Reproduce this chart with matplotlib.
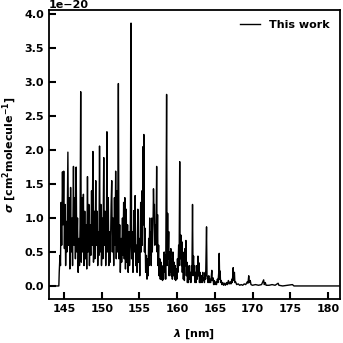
import numpy as np
import matplotlib
matplotlib.use("Agg")
import matplotlib.pyplot as plt

# spectrum (sigma in units of 1e-20 cm^2 molecule^-1)
wl = [143.0, 144.3, 144.35, 144.45, 144.52, 144.6, 144.68, 144.78, 144.86, 144.95,
      145.04, 145.12, 145.2, 145.3, 145.38, 145.5, 145.58, 145.68, 145.76, 145.86,
      145.94, 146.04, 146.12, 146.24, 146.32, 146.42, 146.5, 146.6, 146.68, 146.78,
      146.86, 146.96, 147.04, 147.12, 147.2, 147.28, 147.38, 147.46, 147.56, 147.64,
      147.74, 147.82, 147.92, 148.0, 148.1, 148.18, 148.28, 148.36, 148.46, 148.54,
      148.64, 148.72, 148.82, 148.9, 149.0, 149.08, 149.2, 149.28, 149.38, 149.46,
      149.56, 149.62, 149.7, 149.78, 149.88, 149.96, 150.06, 150.14, 150.26, 150.34,
      150.44, 150.52, 150.62, 150.68, 150.76, 150.86, 150.94, 151.04, 151.12, 151.24,
      151.32, 151.4, 151.5, 151.58, 151.68, 151.76, 151.84, 151.92, 152.02, 152.1,
      152.2, 152.28, 152.38, 152.46, 152.56, 152.64, 152.74, 152.82, 152.9, 152.98,
      153.06, 153.14, 153.24, 153.32, 153.42, 153.5, 153.6, 153.68, 153.78, 153.88,
      153.96, 154.06, 154.14, 154.26, 154.34, 154.42, 154.5, 154.6, 154.68, 154.78,
      154.86, 154.96, 155.04, 155.16, 155.24, 155.32, 155.38, 155.46, 155.52, 155.58,
      155.66, 155.74, 155.82, 155.92, 156.0,
      156.08, 156.14, 156.22, 156.28, 156.36, 156.42, 156.5, 156.56, 156.64,
      156.7, 156.8, 156.86, 156.92, 156.98, 157.04, 157.12, 157.2, 157.28, 157.34,
      157.4, 157.46, 157.54, 157.6, 157.7, 157.76, 157.86, 157.92, 158.0, 158.06,
      158.14, 158.2, 158.28, 158.34, 158.42, 158.48, 158.6, 158.66, 158.74, 158.8,
      158.88, 158.94, 159.02, 159.08, 159.16, 159.22, 159.3, 159.36, 159.44, 159.5,
      159.6, 159.66, 159.74, 159.8, 159.9, 159.96, 160.04, 160.1, 160.2, 160.26,
      160.34, 160.4, 160.5, 160.56, 160.62, 160.68, 160.76, 160.82, 160.9, 160.96,
      161.04, 161.1, 161.16, 161.22, 161.3, 161.36, 161.44, 161.5, 161.6, 161.66,
      161.76, 161.82, 161.9, 161.96, 162.04, 162.1, 162.18, 162.24, 162.32, 162.38,
      162.46, 162.52, 162.62, 162.68, 162.76, 162.82, 162.9, 162.96, 163.06, 163.12,
      163.22, 163.3, 163.4, 163.46, 163.56, 163.62, 163.72, 163.78, 163.9, 163.96,
      164.04, 164.1, 164.2, 164.26, 164.36, 164.44, 164.54, 164.6, 164.66, 164.76,
      164.84, 164.94, 165.02, 165.14, 165.22, 165.34, 165.42, 165.52, 165.58, 165.64,
      165.7, 165.76, 165.86, 165.94, 166.06, 166.16, 166.3, 166.4, 166.56, 166.66,
      166.8, 166.9, 167.04, 167.14, 167.26, 167.32, 167.44, 167.5, 167.6, 167.66,
      167.76, 167.9, 168.1, 168.3, 168.5, 168.7, 168.9, 169.1, 169.3, 169.4,
      169.5, 169.58, 169.7, 169.8, 170.0, 170.4, 170.8, 171.2, 171.4, 171.48,
      171.56, 171.7, 171.8, 172.2, 172.6, 173.0, 173.4, 173.5, 174.0, 175.3,
      175.5, 181.6]

sigma = [0, 0, 0.2, 0.45, 0.3, 1.23, 0.6, 1.68, 0.9, 1.69,
         0.55, 1.2, 0.3, 0.95, 0.5, 1.97, 0.6, 1.3, 0.25, 1.45,
         0.5, 1.0, 0.3, 1.76, 0.6, 1.3, 0.4, 1.75, 0.5, 1.0,
         0.2, 0.7, 0.3, 0.9, 2.86, 0.35, 1.3, 0.5, 1.35, 0.3,
         1.1, 0.4, 0.9, 0.25, 1.61, 0.5, 1.2, 0.3, 0.9, 0.45,
         1.4, 0.6, 1.98, 0.35, 1.1, 0.4, 1.55, 0.6, 1.1, 0.3,
         0.8, 0.45, 2.06, 0.5, 1.2, 0.3, 1.0, 0.4, 1.89, 0.6,
         1.1, 0.3, 0.9, 2.27, 0.5, 1.3, 0.3, 0.8, 0.35, 1.2,
         1.55, 0.5, 1.0, 0.3, 1.3, 0.6, 1.69, 0.4, 1.4, 0.5,
         2.98, 0.4, 0.9, 0.2, 0.7, 0.35, 1.0, 0.45, 1.23, 0.4,
         1.3, 0.25, 1.13, 0.35, 0.9, 0.2, 0.8, 0.3, 0.6, 3.87,
         0.4, 0.8, 0.2, 1.11, 0.5, 1.33, 0.3, 0.6, 0.2, 1.13,
         0.35, 0.7, 0.15, 1.23, 0.5, 1.4, 0.6, 2.05, 0.9, 2.23,
         0.5, 0.85, 0.2, 0.45, 0.1,
         0.4, 0.15, 0.7, 0.3, 1.0, 0.45, 0.8, 0.3, 1.0,
         0.5, 0.9, 1.43, 1.1, 1.2, 0.6, 0.9, 0.7, 1.76, 0.5,
         1.05, 0.3, 0.6, 0.15, 0.4, 0.1, 0.35, 0.1, 0.25, 0.08,
         0.3, 0.1, 0.5, 0.2, 0.45, 0.1, 2.82, 0.3, 1.07, 0.4,
         0.8, 0.15, 0.5, 0.2, 0.55, 0.15, 0.4, 0.1, 0.5, 0.15,
         0.35, 0.1, 0.3, 0.08, 0.25, 0.1, 0.4, 0.2, 0.6, 0.3,
         1.83, 0.4, 0.75, 0.3, 0.65, 0.2, 0.5, 0.1, 0.4, 0.08,
         0.55, 0.3, 0.67, 0.15, 0.35, 0.05, 0.2, 0.05, 0.3, 0.1,
         0.2, 0.05, 0.3, 0.15, 1.2, 0.3, 0.44, 0.15, 0.3, 0.05,
         0.2, 0.05, 0.3, 0.1, 0.44, 0.15, 0.34, 0.05, 0.2, 0.05,
         0.15, 0.05, 0.2, 0.08, 0.12, 0.05, 0.2, 0.1, 0.87, 0.15,
         0.14, 0.05, 0.15, 0.05, 0.1, 0.05, 0.15, 0.23, 0.08, 0.12,
         0.02, 0.08, 0.02, 0.06, 0.02, 0.1, 0.05, 0.2, 0.48, 0.1,
         0.22, 0.05, 0.08, 0.02, 0.05, 0.01, 0.04, 0.01, 0.05, 0.02,
         0.08, 0.03, 0.06, 0.03, 0.1, 0.05, 0.27, 0.08, 0.2, 0.05,
         0.06, 0.02, 0.03, 0.01, 0.02, 0.01, 0.03, 0.02, 0.06, 0.04,
         0.15, 0.05, 0.08, 0.02, 0.01, 0.02, 0.01, 0.02, 0.07, 0.09,
         0.02, 0.05, 0.01, 0.01, 0.02, 0.01, 0.04, 0.01, 0.0, 0.02,
         0.0, 0.0]

plt.rcParams['font.weight'] = 'bold'
plt.rcParams['axes.labelweight'] = 'bold'

fig = plt.figure(figsize=(3.43, 3.43), dpi=100)
ax = fig.add_axes([0.143, 0.128, 0.848, 0.843])

ax.plot(wl, np.array(sigma) * 1e-20, color='black', lw=1.0, label='This work')

ax.set_xlim(143, 181.6)
ax.set_xticks([145, 150, 155, 160, 165, 170, 175, 180])
ax.set_yticks(np.arange(0, 4.01, 0.5) * 1e-20)

ax.tick_params(direction='in', length=5, width=1.5, labelsize=8)
for s in ax.spines.values():
    s.set_linewidth(1.3)

# offset text drawn by hand so it sits right on the top spine
ax.yaxis.get_offset_text().set_visible(False)
ax.text(0.0, 1.0, '1e\u221220', transform=ax.transAxes, ha='left', va='bottom',
        fontsize=8, fontweight='bold')

ax.set_xlabel(r'$\lambda$ [nm]', fontsize=8, labelpad=10)
ax.set_ylabel(r'$\sigma$ [cm$^2$molecule$^{-1}$]', fontsize=8)
ax.legend(loc='upper right', frameon=False, fontsize=8, handlelength=1.8)

fig.savefig('out.png', dpi=100)
